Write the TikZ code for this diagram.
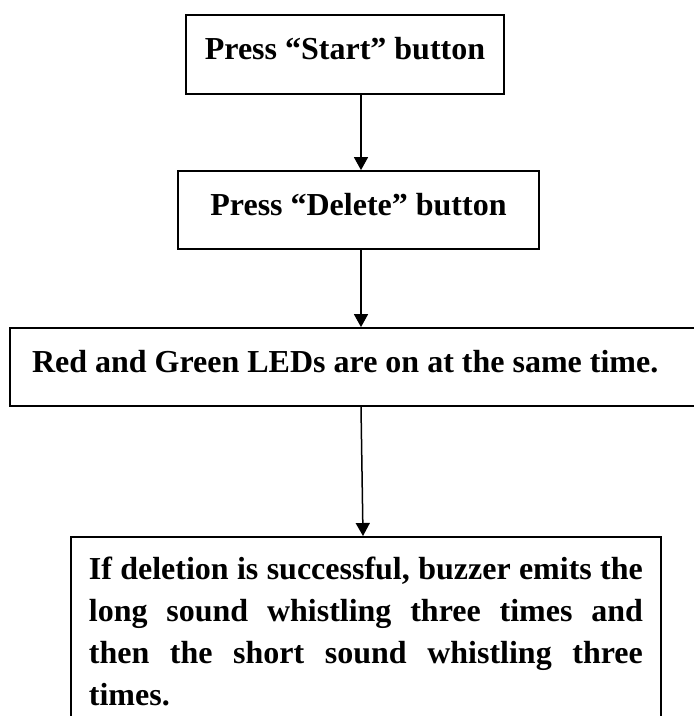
\documentclass[tikz,border=0pt]{standalone}
\usepackage{fontspec}
\setmainfont{Liberation Serif}
\usetikzlibrary{arrows.meta}
\begin{document}
\begin{tikzpicture}[x=1pt,y=-1pt,
  stepbox/.style={draw, rectangle, line width=1.8pt, inner sep=0pt,
    font=\bfseries\fontsize{32}{42}\selectfont},
  oneline/.style={text height=22pt, text depth=12pt},
  flow/.style={line width=1.5pt, -{Triangle[length=13pt,width=14pt]}}]
\useasboundingbox (0,0) rectangle (694,716);

% process steps
\node[stepbox, oneline, minimum width=318pt, minimum height=79pt] (b1) at (345,54.5)
  {Press “Start” button};
\node[stepbox, oneline, minimum width=361pt, minimum height=78pt] (b2) at (358.5,210)
  {Press “Delete” button};
\node[stepbox, oneline, minimum height=78pt, inner xsep=22pt, text width=656pt,
  align=flush left] (b3) at (360,367)
  {Red and Green LEDs are on at the same time.};
\node[stepbox, anchor=north west, inner xsep=18pt, inner ysep=20pt, text width=554pt,
  align=flush left] (b4) at (70,536)
  {\makebox[554pt][s]{If deletion is successful, buzzer emits the}\\
   \makebox[554pt][s]{long sound whistling three times and}\\
   \makebox[554pt][s]{then the short sound whistling three}\\
   times.};

% connectors
\coordinate (c1) at (361,0);
\coordinate (c2) at (363,0);
\draw[flow] (b1.south -| c1) -- (b2.north -| c1);
\draw[flow] (b2.south -| c1) -- (b3.north -| c1);
\draw[flow] (b3.south -| c1) -- (b4.north -| c2);
\end{tikzpicture}
\end{document}
